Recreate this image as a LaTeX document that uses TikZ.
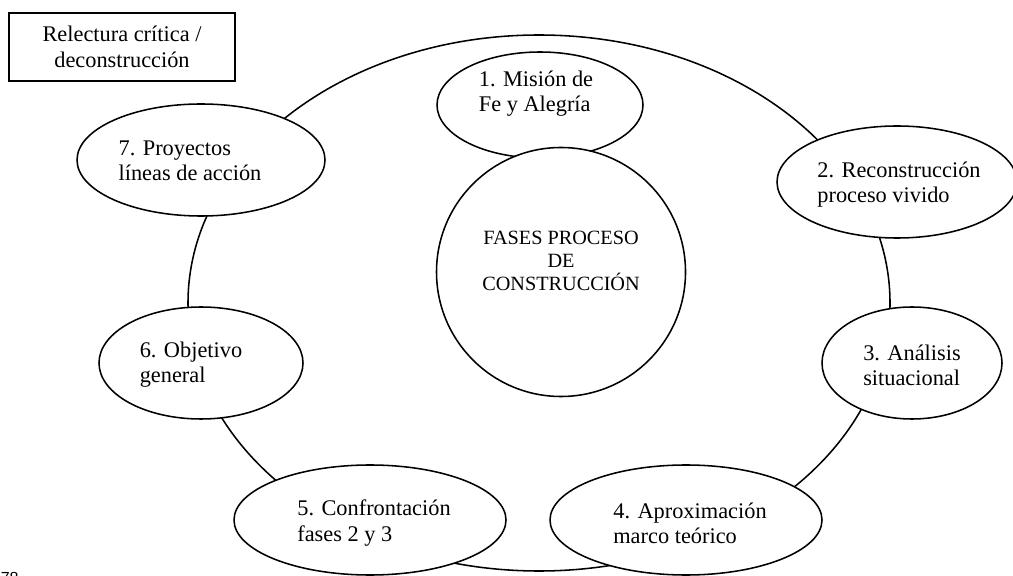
\documentclass[tikz,border=0pt]{standalone}
\usepackage{fontspec}
\setmainfont{Liberation Serif}
\newfontfamily\pagefont{Liberation Sans}
\usepackage{xcolor}
\usetikzlibrary{shapes,positioning}

\begin{document}
\begin{tikzpicture}[
    scale=1.0,
    line width=1.1pt,
    fase/.style={ellipse, draw=black, fill=white, inner sep=0pt},
    rotulo/.style={align=left, inner sep=0pt, font=\fontsize{15.9pt}{17.9pt}\selectfont},
    caja/.style={rectangle, draw=black, align=center, inner sep=0pt, minimum width=5.65cm, minimum height=1.7cm, font=\fontsize{15.9pt}{18.5pt}\selectfont},
]
\useasboundingbox (0,0) rectangle (25.325,14.375);

% 外圈
\node[ellipse, draw=black, minimum width=17.55cm, minimum height=13.4cm, inner sep=0pt] (anillo) at (13.475,6.8) {};

% 左上角的方框
\node[caja] (relectura) at (3.05,13.2) {Relectura crítica /\\deconstrucción};

% 七个阶段的椭圆
\node[fase, minimum width=5.15cm, minimum height=2.65cm] (f1) at (13.5,11.75) {};
\node[fase, minimum width=6.0cm, minimum height=2.8cm] (f2) at (22.425,9.825) {};
\node[fase, minimum width=4.5cm, minimum height=2.8cm] (f3) at (22.8,5.3) {};
\node[fase, minimum width=6.8cm, minimum height=2.75cm] (f4) at (17.15,1.375) {};
\node[fase, minimum width=6.8cm, minimum height=2.75cm] (f5) at (9.25,1.375) {};
\node[fase, minimum width=5.1cm, minimum height=2.8cm] (f6) at (5.025,5.3) {};
\node[fase, minimum width=6.2cm, minimum height=2.8cm] (f7) at (5.025,10.375) {};

% 中间的大圆
\node[circle, draw=black, fill=white, minimum size=6.225cm, inner sep=0pt] (centro) at (14.025,7.575) {};
\node[align=center, inner sep=0pt, font=\fontsize{14.4pt}{16.4pt}\selectfont] (titulo) at (14.025,7.86) {FASES PROCESO\\DE\\CONSTRUCCIÓN};

% 椭圆里的文字
\node[rotulo] (t1) at (13.4,12.025) {1. Misión de\\Fe y Alegría};
\node[rotulo] (t2) at (22.475,9.75) {2. Reconstrucción\\proceso vivido};
\node[rotulo] (t3) at (22.8,5.25) {3. Análisis\\situacional};
\node[rotulo] (t4) at (17.25,1.3) {4. Aproximación\\marco teórico};
\node[rotulo] (t5) at (9.35,1.3) {5. Confrontación\\fases 2 y 3};
\node[rotulo] (t6) at (4.775,5.25) {6. Objetivo\\general};
\node[rotulo] (t7) at (4.75,10.35) {7. Proyectos\\líneas de acción};

% 页码(被裁掉一半)
\node[anchor=north west, inner sep=0pt, font=\pagefont\fontsize{11.4pt}{13pt}\selectfont] (pagina) at (0,0.075) {78};

\end{tikzpicture}
\end{document}
